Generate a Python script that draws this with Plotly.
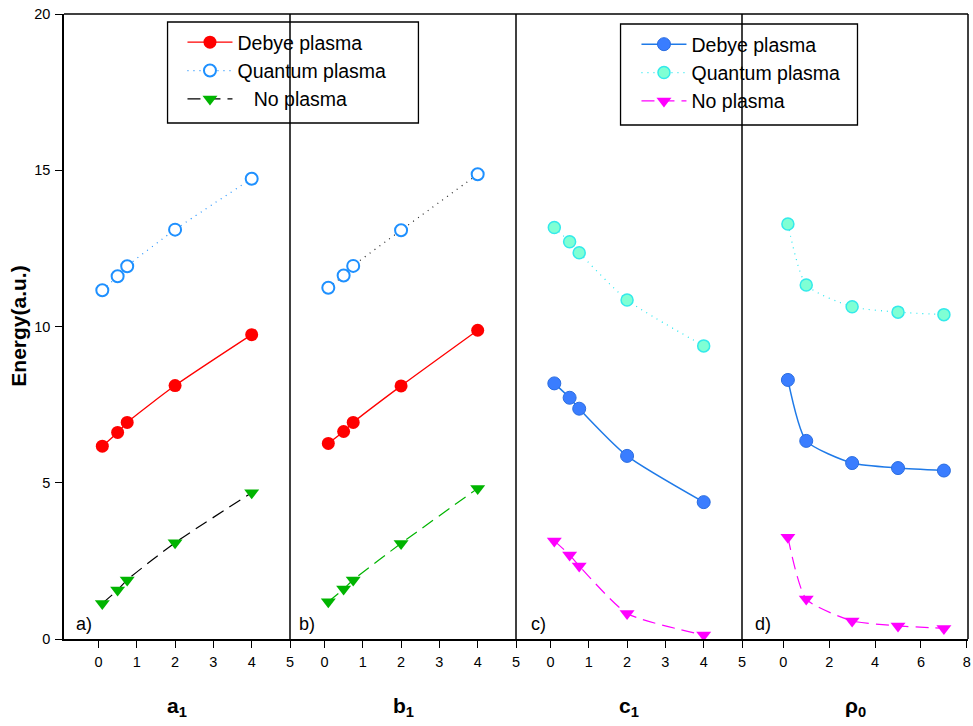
import plotly.graph_objects as go

# ---------------- data ----------------
x_abc = [0.1, 0.5, 0.75, 2, 4]
x_d = [0.2, 1, 3, 5, 7]

a_debye = [6.17, 6.61, 6.93, 8.11, 9.74]
a_quantum = [11.16, 11.61, 11.93, 13.10, 14.73]
a_none = [1.14, 1.57, 1.89, 3.08, 4.68]

b_debye = [6.26, 6.64, 6.93, 8.10, 9.88]
b_quantum = [11.24, 11.63, 11.94, 13.08, 14.87]
b_none = [1.19, 1.60, 1.89, 3.06, 4.82]

c_debye = [8.18, 7.72, 7.37, 5.86, 4.38]
c_quantum = [13.17, 12.71, 12.36, 10.85, 9.38]
c_none = [3.14, 2.69, 2.34, 0.82, 0.13]

d_debye = [8.29, 6.34, 5.63, 5.47, 5.39]
d_quantum = [13.28, 11.33, 10.63, 10.46, 10.38]
d_none = [3.26, 1.28, 0.58, 0.42, 0.34]

series_names = ["Debye plasma", "Quantum plasma", "\u00a0\u00a0\u00a0No plasma"]
series_names2 = ["Debye plasma", "Quantum plasma", "No plasma"]
panel_labels = ["a)", "b)", "c)", "d)"]
x_titles = ["<b>a<sub>1</sub></b>", "<b>b<sub>1</sub></b>", "<b>c<sub>1</sub></b>", "<b>\u03c1<sub>0</sub></b>"]
y_title = "<b>Energy(a.u.)</b>"

FONT = "Arial, Liberation Sans, sans-serif"
DASH = "13px,7px"
DOT = "1px,5px"

fig = go.Figure()

def add(x, y, xa, name, show, legend, line, marker):
    fig.add_trace(go.Scatter(
        x=x, y=y, xaxis=xa, yaxis="y", name=name, mode="lines+markers",
        showlegend=show, legend=legend, line=dict(shape="spline", smoothing=0.6, **line),
        marker=marker))

# panel a
add(x_abc, a_debye, "x", series_names[0], True, "legend",
    dict(color="#ff0000", width=1.3),
    dict(symbol="circle", size=13, color="#ff0000", line=dict(width=0)))
add(x_abc, a_quantum, "x", series_names[1], True, "legend",
    dict(color="#1e90ff", width=1.2, dash=DOT),
    dict(symbol="circle", size=12, color="white", line=dict(width=2, color="#1e90ff")))
add(x_abc, a_none, "x", series_names[2], True, "legend",
    dict(color="#000000", width=1.2, dash=DASH),
    dict(symbol="triangle-down", size=13, color="#00b400", line=dict(width=0)))
# panel b
add(x_abc, b_debye, "x2", series_names[0], False, "legend",
    dict(color="#ff0000", width=1.3),
    dict(symbol="circle", size=13, color="#ff0000", line=dict(width=0)))
add(x_abc, b_quantum, "x2", series_names[1], False, "legend",
    dict(color="#222222", width=1.2, dash=DOT),
    dict(symbol="circle", size=12, color="white", line=dict(width=2, color="#1e90ff")))
add(x_abc, b_none, "x2", series_names[2], False, "legend",
    dict(color="#00b400", width=1.2, dash=DASH),
    dict(symbol="triangle-down", size=13, color="#00b400", line=dict(width=0)))
# panel c
add(x_abc, c_debye, "x3", series_names2[0], True, "legend2",
    dict(color="#1f7ae8", width=1.5),
    dict(symbol="circle", size=13, color="#3a7dff", line=dict(width=1, color="#2a6de0")))
add(x_abc, c_quantum, "x3", series_names2[1], True, "legend2",
    dict(color="#22e8f0", width=1.2, dash=DOT),
    dict(symbol="circle", size=12, color="#7fffd4", line=dict(width=1.5, color="#33eaea")))
add(x_abc, c_none, "x3", series_names2[2], True, "legend2",
    dict(color="#ff00ff", width=1.2, dash=DASH),
    dict(symbol="triangle-down", size=13, color="#ff00ff", line=dict(width=0)))
# panel d
add(x_d, d_debye, "x4", series_names2[0], False, "legend2",
    dict(color="#1f7ae8", width=1.5),
    dict(symbol="circle", size=13, color="#3a7dff", line=dict(width=1, color="#2a6de0")))
add(x_d, d_quantum, "x4", series_names2[1], False, "legend2",
    dict(color="#22e8f0", width=1.2, dash=DOT),
    dict(symbol="circle", size=12, color="#7fffd4", line=dict(width=1.5, color="#33eaea")))
add(x_d, d_none, "x4", series_names2[2], False, "legend2",
    dict(color="#ff00ff", width=1.2, dash=DASH),
    dict(symbol="triangle-down", size=13, color="#ff00ff", line=dict(width=0)))

W, H = 973, 726
L, R, T, B = 64, 1, 14, 87
PW, PH = W - L - R, H - T - B

def px_x(p):
    return (p - L) / PW

def px_y(p):
    return (H - B - p) / PH

xax_common = dict(showline=True, linecolor="black", linewidth=1.5, ticks="outside",
                  ticklen=7, tickwidth=1.3, tickcolor="black", showgrid=False, zeroline=False,
                  anchor="y", tickfont=dict(family=FONT, size=14.5, color="black"),
                  ticklabelstandoff=2, ticklabeloverflow="allow")
fig.update_layout(
    width=W, height=H, margin=dict(l=L, r=R, t=T, b=B),
    plot_bgcolor="white", paper_bgcolor="white",
    xaxis=dict(domain=[0, 0.25], range=[-0.9, 5], dtick=1, **xax_common),
    xaxis2=dict(domain=[0.25, 0.5], range=[-0.9, 5], dtick=1, **xax_common),
    xaxis3=dict(domain=[0.5, 0.75], range=[-0.9, 5], dtick=1, **xax_common),
    xaxis4=dict(domain=[0.75, 1.0], range=[-1.8, 8.05], dtick=2, **xax_common),
    yaxis=dict(domain=[0, 1], range=[0, 20], dtick=5, showline=True, linecolor="black",
               linewidth=1.5, ticks="outside", ticklen=7, tickwidth=1.3, tickcolor="black",
               showgrid=False, zeroline=False, anchor="x", ticklabeloverflow="allow",
               tickfont=dict(family=FONT, size=14.5, color="black"), ticklabelstandoff=2),
    legend=dict(x=px_x(183), y=px_y(23), xanchor="left", yanchor="top",
                bgcolor="rgba(0,0,0,0)", borderwidth=0, itemwidth=45, tracegroupgap=0,
                font=dict(family=FONT, size=19.5, color="black")),
    legend2=dict(x=px_x(639), y=px_y(25), xanchor="left", yanchor="top",
                 bgcolor="rgba(0,0,0,0)", borderwidth=0, itemwidth=45, tracegroupgap=0,
                 font=dict(family=FONT, size=19.5, color="black")),
    showlegend=True,
)

shapes = []
shapes.append(dict(type="line", xref="paper", yref="paper", x0=0, x1=1, y0=1, y1=1,
                   line=dict(color="black", width=1.5)))
for xs in [0.25, 0.5, 0.75, 1.0]:
    shapes.append(dict(type="line", xref="paper", yref="paper", x0=xs, x1=xs, y0=0, y1=1,
                       line=dict(color="black", width=1.5)))
shapes.append(dict(type="rect", xref="paper", yref="paper",
                   x0=px_x(168), x1=px_x(420), y0=px_y(123), y1=px_y(22),
                   line=dict(color="black", width=1.3), fillcolor="rgba(0,0,0,0)"))
shapes.append(dict(type="rect", xref="paper", yref="paper",
                   x0=px_x(623), x1=px_x(861), y0=px_y(125), y1=px_y(24),
                   line=dict(color="black", width=1.3), fillcolor="rgba(0,0,0,0)"))
fig.update_layout(shapes=shapes)

ann = []
label_px = [74, 298, 531, 756]
for lab, lx in zip(panel_labels, label_px):
    ann.append(dict(text=lab, xref="paper", yref="paper", x=px_x(lx), y=px_y(624),
                    xanchor="left", yanchor="middle", showarrow=False,
                    font=dict(family=FONT, size=18, color="black")))
for t, cx in zip(x_titles, [0.125, 0.375, 0.625, 0.875]):
    ann.append(dict(text=t, xref="paper", yref="paper", x=cx, y=px_y(707),
                    xanchor="center", yanchor="middle", showarrow=False,
                    font=dict(family=FONT, size=21, color="black")))
ann.append(dict(text=y_title, xref="paper", yref="paper", x=px_x(18), y=0.5,
                xanchor="center", yanchor="middle", textangle=-90, showarrow=False,
                font=dict(family=FONT, size=21, color="black")))
fig.update_layout(annotations=ann)

fig.write_html("out.html", config={"displayModeBar": False},
               post_script="document.body.style.margin='0';document.body.style.overflow='hidden';")
